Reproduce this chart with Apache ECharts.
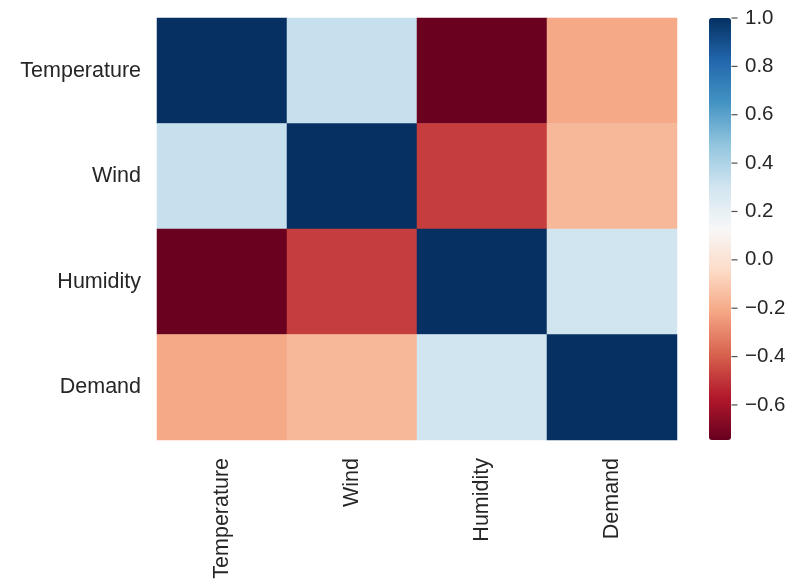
<!DOCTYPE html>
<html>
<head>
<meta charset="utf-8">
<script src="https://cdn.jsdelivr.net/npm/echarts@6/dist/echarts.min.js"></script>
<style>html,body{margin:0;padding:0;background:#fff;}#c{width:793px;height:584px;}</style>
</head>
<body>
<div id="c"></div>
<script>
const categories = ['Temperature', 'Wind', 'Humidity', 'Demand'];
const rowTemperature = [1.00, 0.33, -0.74, -0.21];
const rowWind = [0.33, 1.00, -0.48, -0.16];
const rowHumidity = [-0.74, -0.48, 1.00, 0.30];
const rowDemand = [-0.21, -0.16, 0.30, 1.00];
const colorbarTicks = [-0.6, -0.4, -0.2, 0.0, 0.2, 0.4, 0.6, 0.8, 1.0];
const scaleMin = -0.745;
const scaleMax = 1.0;
const rdbu = ['#67001f','#b2182b','#d6604d','#f4a582','#fddbc7','#f7f7f7','#d1e5f0','#92c5de','#4393c3','#2166ac','#053061'];

const rows = [rowTemperature, rowWind, rowHumidity, rowDemand];
const data = [];
rows.forEach((r, yi) => r.forEach((v, xi) => data.push([xi, yi, v])));
const tickMarks = colorbarTicks.map(v => [1, v]);

const font = 'Liberation Sans, Arial, sans-serif';
const chart = echarts.init(document.getElementById('c'), null, {renderer: 'canvas'});
chart.setOption({
  backgroundColor: '#fff',
  animation: false,
  grid: [
    {left: 157, top: 18, width: 520, height: 422},
    {left: 709, top: 18, width: 22, height: 422}
  ],
  xAxis: [
    {type: 'category', data: categories, gridIndex: 0,
     axisLine: {show: false}, axisTick: {show: false}, splitLine: {show: false},
     axisLabel: {rotate: 90, margin: 18, fontSize: 21.5, color: '#262626', fontFamily: font}},
    {type: 'value', gridIndex: 1, show: false, min: 0, max: 1}
  ],
  yAxis: [
    {type: 'category', data: categories, gridIndex: 0, inverse: true,
     axisLine: {show: false}, axisTick: {show: false}, splitLine: {show: false},
     axisLabel: {margin: 16, fontSize: 21.5, color: '#262626', fontFamily: font}},
    {type: 'value', gridIndex: 1, position: 'right', min: scaleMin, max: scaleMax,
     axisLine: {show: false}, splitLine: {show: false},
     axisTick: {show: false},
     axisLabel: {margin: 14, fontSize: 20.5, color: '#262626', fontFamily: font, customValues: colorbarTicks,
       formatter: v => (v < 0 ? '\u2212' : '') + Math.abs(v).toFixed(1)}}
  ],
  visualMap: {
    type: 'continuous', seriesIndex: 0, min: scaleMin, max: scaleMax,
    calculable: false, realtime: false, hoverLink: false,
    left: 709, top: 18, itemWidth: 22, itemHeight: 422, padding: 0,
    text: null, showLabel: false,
    inRange: {color: rdbu}
  },
  series: [{
    type: 'heatmap', xAxisIndex: 0, yAxisIndex: 0, data: data,
    emphasis: {disabled: true}, itemStyle: {borderWidth: 0}
  }, {
    type: 'scatter', xAxisIndex: 1, yAxisIndex: 1, data: tickMarks,
    symbol: 'rect', symbolSize: [6, 1.2], symbolOffset: [3.5, 0],
    itemStyle: {color: '#262626'}, silent: true, clip: false
  }]
});
</script>
</body>
</html>
